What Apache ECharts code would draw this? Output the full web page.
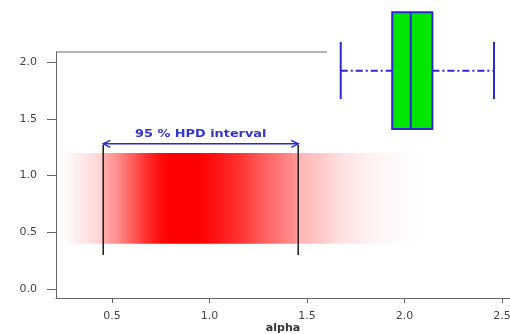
<!DOCTYPE html>
<html><head><meta charset="utf-8">
<script src="https://cdn.jsdelivr.net/npm/echarts@6/dist/echarts.min.js"></script>
<style>html,body{margin:0;padding:0;background:#fff}#c{width:510px;height:334px}</style>
</head><body><div id="c"></div>
<script>
// ---- data ----
const xTicks = [0.5, 1.0, 1.5, 2.0, 2.5];
const yTicks = [0.0, 0.5, 1.0, 1.5, 2.0];
const xTitle = 'alpha';
const densityX =     [0.249, 0.31, 0.387, 0.449, 0.455, 0.515, 0.592, 0.669, 0.746, 0.797, 0.951, 1.028, 1.156, 1.285, 1.444, 1.455, 1.567, 1.67, 1.823, 1.977, 2.08];
const densityLevel = [0.0,   0.06, 0.12,  0.18,  0.32,  0.42,  0.6,   0.8,   0.95,  1.0,   1.0,   0.93,  0.8,   0.62,  0.42,  0.3,   0.22,  0.12, 0.05,  0.02,  0.0];
const bandY = [0.4, 1.2];
const hpdInterval = [0.455, 1.455];
const hpdLineY = [0.3, 1.27];
const arrowY = 1.28;
const hpdLabel = '95 % HPD interval';
const hpdLabelY = 1.37;
const boxStats = [1.673, 1.937, 2.032, 2.143, 2.459]; // min, q1, median, q3, max
const boxCenterY = 1.925;
const boxSpanY = [1.41, 2.44];
const capSpanY = [1.675, 2.18];
const xRange = [0.2128, 2.541];
const yRange = [-0.0794, 2.09];
const frameTopEnd = 1.603;

// ---- chart ----
const chart = echarts.init(document.getElementById('c'));
const axisGrey = '#666';
const blue = '#2a2ad0';
const fmt = v => v.toFixed(1);

const x0 = densityX[0], xN = densityX[densityX.length - 1];
const stops = densityX.map((x, i) => {
  const g = Math.round(255 * (1 - densityLevel[i]));
  return { offset: (x - x0) / (xN - x0), color: `rgb(255,${g},${g})` };
});

chart.setOption({
  animation: false,
  backgroundColor: '#fff',
  grid: { left: 56, right: 0, top: 52, bottom: 36, containLabel: false, outerBoundsMode: 'none' },
  xAxis: {
    type: 'value', min: xRange[0], max: xRange[1],
    name: xTitle, nameLocation: 'middle', nameGap: 25, nameMoveOverlap: false,
    nameTextStyle: { fontFamily: 'DejaVu Sans', fontWeight: 'bold', fontSize: 11, color: '#333' },
    axisLine: { onZero: false, lineStyle: { color: axisGrey, width: 1 } },
    axisTick: { show: true, length: 5, lineStyle: { color: axisGrey }, customValues: xTicks },
    axisLabel: { customValues: xTicks, formatter: fmt, fontFamily: 'DejaVu Sans', fontSize: 11, color: '#444', margin: 13 },
    splitLine: { show: false }
  },
  yAxis: {
    type: 'value', min: yRange[0], max: yRange[1],
    axisLine: { show: true, onZero: false, lineStyle: { color: axisGrey, width: 1 } },
    axisTick: { show: true, length: 9, lineStyle: { color: axisGrey }, customValues: yTicks },
    axisLabel: { customValues: yTicks, formatter: fmt, fontFamily: 'DejaVu Sans', fontSize: 11, color: '#444', margin: 19 },
    splitLine: { show: false }
  },
  series: [
    { // density band
      type: 'custom', data: [[x0, xN]], z: 1,
      renderItem: (params, api) => {
        const p0 = api.coord([api.value(0), bandY[1]]);
        const p1 = api.coord([api.value(1), bandY[0]]);
        return { type: 'rect', shape: { x: p0[0], y: p0[1], width: p1[0] - p0[0], height: p1[1] - p0[1] },
          style: { fill: new echarts.graphic.LinearGradient(0, 0, 1, 0, stops) } };
      }
    },
    { // top frame line
      type: 'custom', data: [[xRange[0], frameTopEnd]], z: 2,
      renderItem: (params, api) => {
        const a = api.coord([api.value(0), yRange[1]]);
        const b = api.coord([api.value(1), yRange[1]]);
        return { type: 'line', shape: { x1: a[0], y1: a[1], x2: b[0], y2: b[1] }, style: { stroke: axisGrey, lineWidth: 1 } };
      }
    },
    { // HPD vertical lines
      type: 'custom', data: hpdInterval.map(x => [x]), z: 3,
      renderItem: (params, api) => {
        const a = api.coord([api.value(0), hpdLineY[0]]);
        const b = api.coord([api.value(0), hpdLineY[1]]);
        return { type: 'line', shape: { x1: a[0], y1: a[1], x2: b[0], y2: b[1] }, style: { stroke: '#222', lineWidth: 1.6 } };
      }
    },
    { // arrow + label
      type: 'custom', data: [[hpdInterval[0], hpdInterval[1]]], z: 4,
      renderItem: (params, api) => {
        const a = api.coord([api.value(0), arrowY]);
        const b = api.coord([api.value(1), arrowY]);
        const t = api.coord([(api.value(0) + api.value(1)) / 2, hpdLabelY]);
        const s = { stroke: blue, lineWidth: 1.5, fill: null };
        return { type: 'group', children: [
          { type: 'line', shape: { x1: a[0], y1: a[1], x2: b[0], y2: b[1] }, style: s },
          { type: 'polyline', shape: { points: [[a[0] + 7, a[1] - 3.5], [a[0], a[1]], [a[0] + 7, a[1] + 3.5]] }, style: s },
          { type: 'polyline', shape: { points: [[b[0] - 7, b[1] - 3.5], [b[0], b[1]], [b[0] - 7, b[1] + 3.5]] }, style: s },
          { type: 'text', x: t[0], y: t[1], scaleX: 1.17, style: { text: hpdLabel, align: 'center', verticalAlign: 'middle',
            fontFamily: 'DejaVu Sans', fontWeight: 'bold', fontSize: 11, fill: '#3535c8' } }
        ] };
      }
    },
    { // boxplot
      type: 'custom', data: [boxStats], z: 5, clip: false,
      renderItem: (params, api) => {
        const v = [0, 1, 2, 3, 4].map(i => api.value(i));
        const c = api.coord([0, boxCenterY])[1];
        const bt = api.coord([0, boxSpanY[1]])[1], bb = api.coord([0, boxSpanY[0]])[1];
        const ct = api.coord([0, capSpanY[1]])[1], cb = api.coord([0, capSpanY[0]])[1];
        const X = v.map(x => api.coord([x, 0])[0]);
        const ws = { stroke: blue, lineWidth: 2, lineDash: [7, 3, 2, 3] };
        const ss = { stroke: blue, lineWidth: 2 };
        return { type: 'group', children: [
          { type: 'line', shape: { x1: X[0], y1: c, x2: X[1], y2: c }, style: ws },
          { type: 'line', shape: { x1: X[3], y1: c, x2: X[4], y2: c }, style: ws },
          { type: 'line', shape: { x1: X[0], y1: ct, x2: X[0], y2: cb }, style: ss },
          { type: 'line', shape: { x1: X[4], y1: ct, x2: X[4], y2: cb }, style: ss },
          { type: 'rect', shape: { x: X[1], y: bt, width: X[3] - X[1], height: bb - bt }, style: { fill: '#00e600', stroke: blue, lineWidth: 2 } },
          { type: 'line', shape: { x1: X[2], y1: bt, x2: X[2], y2: bb }, style: ss }
        ] };
      }
    }
  ]
});
</script></body></html>
